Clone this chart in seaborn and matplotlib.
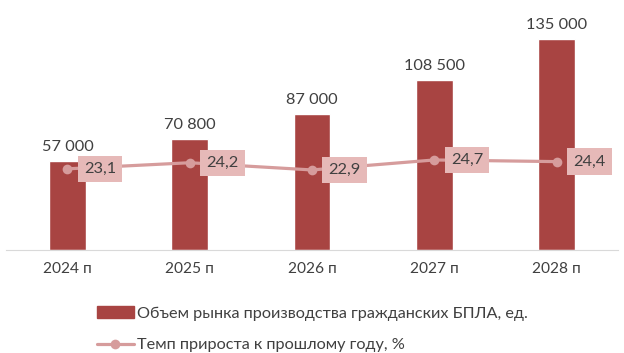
import numpy as np
import pandas as pd
import matplotlib.pyplot as plt
import seaborn as sns
from matplotlib.patches import Patch
from matplotlib.lines import Line2D

years = ["2024 п", "2025 п", "2026 п", "2027 п", "2028 п"]
volume = [57000, 70800, 87000, 108500, 135000]
growth = [23.1, 24.2, 22.9, 24.7, 24.4]

bar_name = "Объем рынка производства гражданских БПЛА, ед."
line_name = "Темп прироста к прошлому году, %"

bar_color = "#a84442"
line_color = "#d69c9c"
box_color = "#e6b9b8"
text_color = "#404040"

sns.set_style("white")
plt.rcParams['font.family'] = ['Lato', 'DejaVu Sans']

df = pd.DataFrame({"year": years, "volume": volume, "growth": growth})

fig = plt.figure(figsize=(6.24, 3.53), dpi=100)
ax = fig.add_axes([0.01, 0.292, 0.98, 0.708])

sns.barplot(data=df, x="year", y="volume", color=bar_color, width=0.3,
            saturation=1, ax=ax)
ax.set_xlim(-0.5, 4.5)
ax.set_ylim(0, 160000)
ax.set_xlabel("")
ax.set_ylabel("")
ax.set_yticks([])
for s in ["top", "right", "left"]:
    ax.spines[s].set_visible(False)
ax.spines["bottom"].set_color("#d9d9d9")
ax.tick_params(axis="x", length=0, labelsize=11.2, colors=text_color, pad=9)

for i, v in enumerate(volume):
    ax.annotate(f"{v:,}".replace(",", " "), (i, v), xytext=(0, 5),
                textcoords="offset points", ha="center", va="bottom",
                fontsize=11.8, color=text_color)

ax2 = ax.twinx()
sns.lineplot(x=np.arange(len(growth)), y=growth, color=line_color, lw=2.3,
             marker="o", markersize=7, markeredgewidth=0, ax=ax2)
ax2.set_ylim(8.5, 53.5)
ax2.set_yticks([])
for s in ax2.spines.values():
    s.set_visible(False)

for i, g in enumerate(growth):
    ax2.annotate(f"{g:.1f}".replace(".", ","), (i, g), xytext=(12, 0),
                 textcoords="offset points", ha="left", va="center",
                 fontsize=11.8, color=text_color,
                 bbox=dict(boxstyle="square,pad=0.38", fc=box_color, ec="none"))

handles = [Patch(color=bar_color),
           Line2D([], [], color=line_color, lw=2.3, marker="o", markersize=7,
                  markeredgewidth=0)]
fig.legend(handles, [bar_name, line_name], loc="upper left",
           bbox_to_anchor=(0.155, 0.132), frameon=False, fontsize=11.7,
           labelcolor=text_color, handlelength=2.3, handletextpad=0.2,
           labelspacing=1.05, borderaxespad=0, borderpad=0)

fig.savefig("out.png", dpi=100)
